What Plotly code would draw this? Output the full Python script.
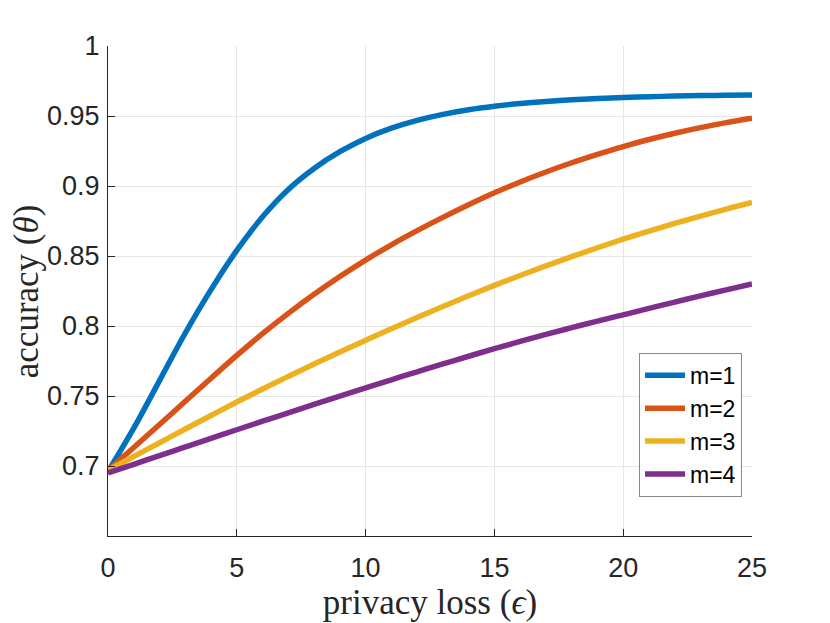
import plotly.graph_objects as go

eps = list(range(0, 26))

acc_m1 = [0.6960, 0.7270, 0.7610, 0.7950, 0.8260, 0.8540, 0.8780, 0.8975, 0.9125,
          0.9245, 0.9340, 0.9413, 0.9469, 0.9512, 0.9545, 0.9570, 0.9589, 0.9604,
          0.9616, 0.9625, 0.9632, 0.9638, 0.9642, 0.9646, 0.9648, 0.9650]
acc_m2 = [0.6970, 0.7132, 0.7296, 0.7462, 0.7627, 0.7790, 0.7945, 0.8090, 0.8226,
          0.8353, 0.8471, 0.8580, 0.8681, 0.8776, 0.8866, 0.8951, 0.9029, 0.9100,
          0.9166, 0.9226, 0.9282, 0.9332, 0.9377, 0.9417, 0.9453, 0.9485]
acc_m3 = [0.6970, 0.7068, 0.7166, 0.7264, 0.7361, 0.7457, 0.7550, 0.7640, 0.7728,
          0.7814, 0.7898, 0.7980, 0.8060, 0.8139, 0.8216, 0.8290, 0.8361, 0.8429,
          0.8495, 0.8559, 0.8620, 0.8678, 0.8733, 0.8785, 0.8835, 0.8882]
acc_m4 = [0.6950, 0.7012, 0.7074, 0.7136, 0.7198, 0.7259, 0.7320, 0.7380, 0.7440,
          0.7499, 0.7558, 0.7616, 0.7673, 0.7729, 0.7784, 0.7838, 0.7890, 0.7940,
          0.7988, 0.8035, 0.8080, 0.8126, 0.8171, 0.8215, 0.8258, 0.8300]

series_names = ["m=1", "m=2", "m=3", "m=4"]
colors = ["#0072BD", "#D95319", "#EDB120", "#7E2F8E"]

x_ticks = [0, 5, 10, 15, 20, 25]
y_ticks = [0.7, 0.75, 0.8, 0.85, 0.9, 0.95, 1.0]
y_tick_text = ["0.7", "0.75", "0.8", "0.85", "0.9", "0.95", "1"]

fig = go.Figure()
for name, ys, c in zip(series_names, [acc_m1, acc_m2, acc_m3, acc_m4], colors):
    fig.add_trace(go.Scatter(x=eps, y=ys, name=name, mode="lines",
                             line=dict(color=c, width=5.5, shape="spline", smoothing=1.0)))

axis_common = dict(
    automargin=False,
    showgrid=True, gridcolor="#e6e6e6", gridwidth=1,
    showline=True, linecolor="#262626", linewidth=1,
    ticks="inside", ticklen=7, tickcolor="#262626",
    tickfont=dict(family="Liberation Sans, Arial", size=27, color="#262626"),
    zeroline=False,
)
title_font = dict(family="Liberation Serif, Times New Roman", size=35, color="#262626")

fig.update_xaxes(range=[0, 25], tickvals=x_ticks, ticklabelstandoff=8, **axis_common,
                 title=dict(text="privacy loss (<i>ϵ</i>)", standoff=4, font=title_font))
fig.update_yaxes(range=[0.65, 1.0], tickvals=y_ticks, ticktext=y_tick_text,
                 ticklabelstandoff=2, **axis_common)

# y title as an annotation so it can sit closer to the page edge
fig.add_annotation(text="accuracy (<i>θ</i>)", textangle=-90, font=title_font,
                   xref="paper", yref="paper", x=-0.127, y=0.5,
                   xanchor="center", yanchor="middle", showarrow=False)

# page body has an 8px margin, so the figure is a bit smaller and shifted
fig.update_layout(
    width=822, height=615,
    margin=dict(l=100, r=78, t=38, b=87),
    plot_bgcolor="white", paper_bgcolor="white",
    legend=dict(x=0.9845, y=0.08, xanchor="right", yanchor="bottom",
                bgcolor="white", bordercolor="#888888", borderwidth=1,
                font=dict(family="Liberation Sans, Arial", size=23, color="black"),
                itemwidth=40, tracegroupgap=0),
)

fig.write_html("out.html")
